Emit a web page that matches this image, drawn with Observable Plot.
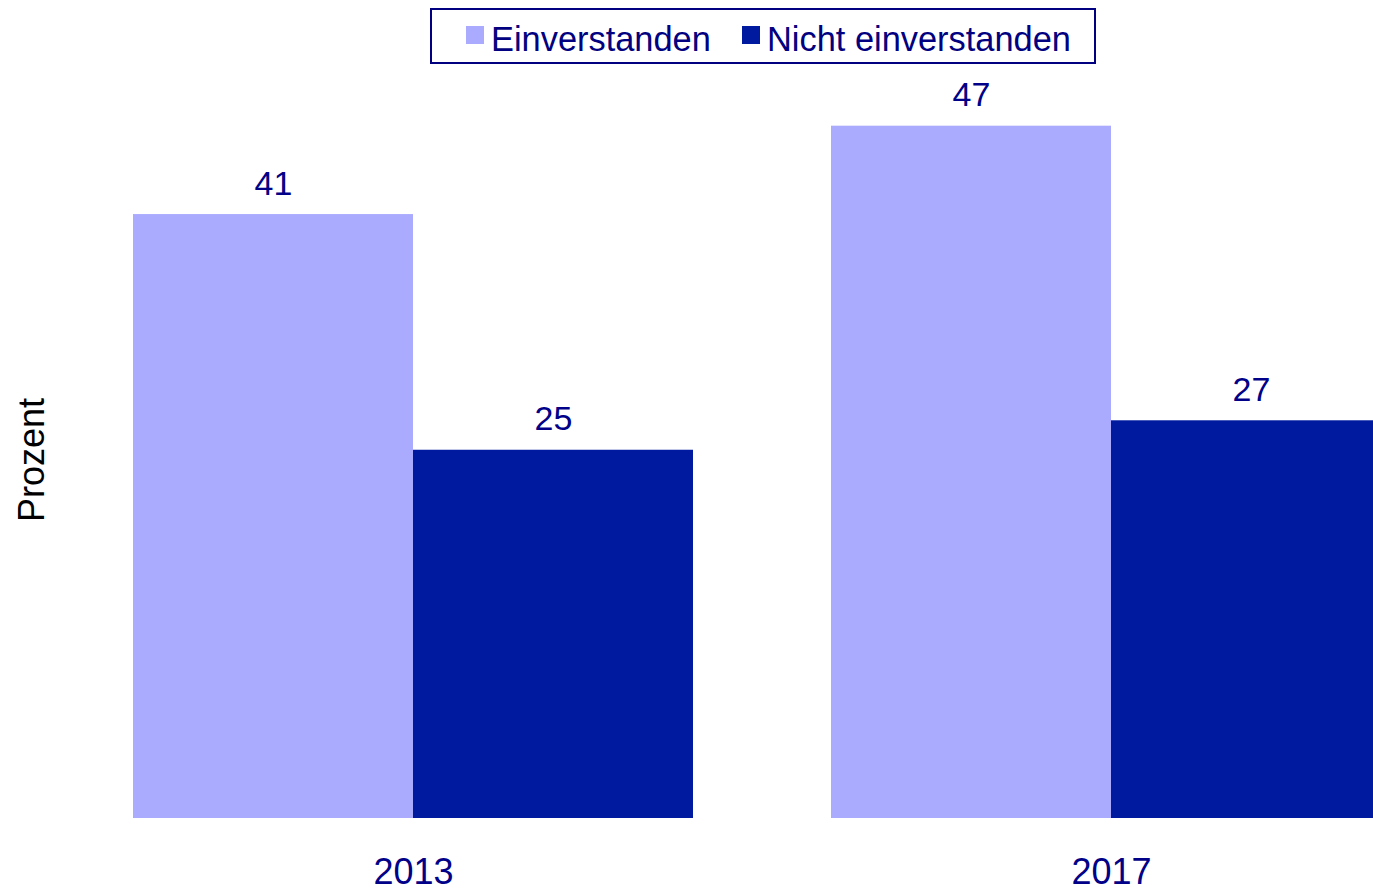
<!DOCTYPE html>
<html>
<head>
<meta charset="utf-8">
<script src="https://cdn.jsdelivr.net/npm/d3@7"></script>
<script src="https://cdn.jsdelivr.net/npm/@observablehq/plot@0.6"></script>
<style>
  html, body { margin: 0; padding: 0; background: #fff; overflow: hidden; }
  #wrap { position: relative; width: 1373px; height: 893px; font-family: "Liberation Sans", Arial, sans-serif; }
  #legend { position: absolute; left: 430px; top: 8px; width: 662px; height: 52px; border: 2px solid #000080; background: #fff; font-size: 34.4px; color: #000080; }
  #legend .item { position: absolute; top: 0; height: 52px; display: flex; align-items: center; gap: 7px; padding-top: 6px; box-sizing: border-box; }
  #legend .sw { width: 18px; height: 18px; display: inline-block; margin-top: -8px; }
  #ylabel { position: absolute; left: 32px; top: 460px; transform: translate(-50%, -50%) rotate(-90deg); font-size: 36px; color: #000; white-space: nowrap; }
</style>
</head>
<body>
<div id="wrap"></div>
<script>
const years = ["2013", "2017"];
const seriesNames = ["Einverstanden", "Nicht einverstanden"];
const einverstanden = [41, 47];
const nichtEinverstanden = [25, 27];
const colors = ["#AAAAFF", "#001A9F"];
const textColor = "#000088";

const data = [];
years.forEach((y, i) => {
  data.push({year: y, series: seriesNames[0], value: einverstanden[i]});
  data.push({year: y, series: seriesNames[1], value: nichtEinverstanden[i]});
});

const chart = Plot.plot({
  width: 1373,
  height: 893,
  marginLeft: 133,
  marginRight: -18,
  marginTop: 81.5,
  marginBottom: 75,
  style: {overflow: "hidden", fontFamily: "Liberation Sans, Arial, sans-serif", background: "#fff"},
  fx: {domain: years, paddingInner: 138 / 698, paddingOuter: 0, round: false},
  x: {domain: seriesNames, padding: 0, round: false, axis: null},
  y: {domain: [0, 50], axis: null},
  color: {domain: seriesNames, range: colors},
  marks: [
    Plot.barY(data, {fx: "year", x: "series", y: "value", fill: "series", inset: 0}),
    Plot.text(data, {fx: "year", x: "series", y: "value", text: d => String(d.value), lineAnchor: "bottom", dy: -20, fontSize: 34, fill: textColor}),
    Plot.axisFx({anchor: "bottom", tickSize: 0, tickPadding: 40, fontSize: 36, fill: textColor, label: null})
  ]
});

const wrap = document.getElementById("wrap");
wrap.appendChild(chart);

const legend = document.createElement("div");
legend.id = "legend";
const itemLefts = [34, 310];
seriesNames.forEach((s, i) => {
  const item = document.createElement("div");
  item.className = "item";
  item.style.left = itemLefts[i] + "px";
  const sw = document.createElement("span");
  sw.className = "sw";
  sw.style.background = colors[i];
  const t = document.createElement("span");
  t.textContent = s;
  item.appendChild(sw);
  item.appendChild(t);
  legend.appendChild(item);
});
wrap.appendChild(legend);

const yl = document.createElement("div");
yl.id = "ylabel";
yl.textContent = "Prozent";
wrap.appendChild(yl);
</script>
</body>
</html>
